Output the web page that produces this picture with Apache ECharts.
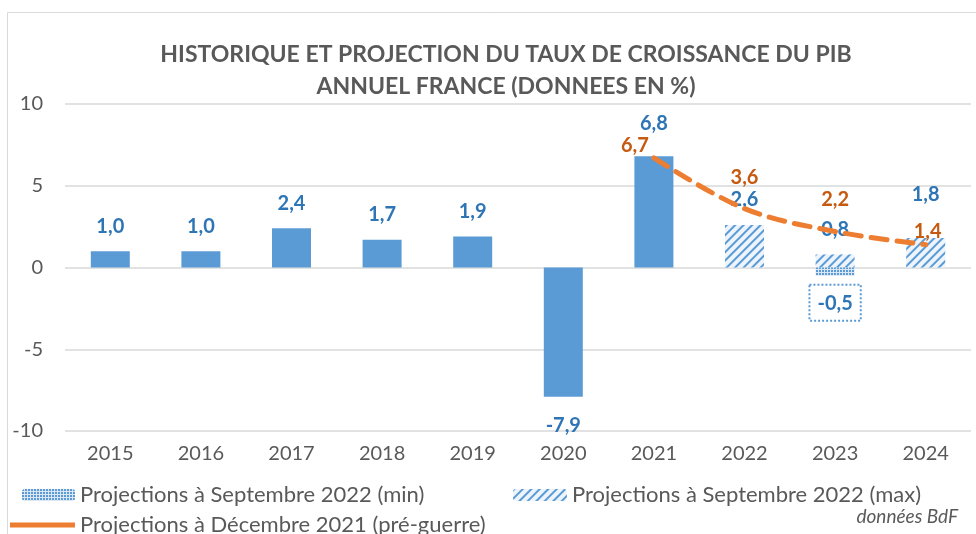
<!DOCTYPE html>
<html>
<head>
<meta charset="utf-8">
<script src="https://cdn.jsdelivr.net/npm/echarts@6/dist/echarts.min.js"></script>
<style>html,body{margin:0;padding:0;background:#fff;}#c{width:976px;height:534px;}</style>
</head>
<body>
<div id="c"></div>
<script>
const years = ['2015','2016','2017','2018','2019','2020','2021','2022','2023','2024'];
const historique = [1.0, 1.0, 2.4, 1.7, 1.9, -7.9, 6.8, null, null, null];
const sep2022Max = [null, null, null, null, null, null, null, 2.6, 0.8, 1.8];
const sep2022Min = [null, null, null, null, null, null, null, null, -0.5, null];
const dec2021 = [null, null, null, null, null, null, 6.7, 3.6, 2.2, 1.4];
const yTicks = [-10, -5, 0, 5, 10];

const NAME_MIN = 'Projections à Septembre 2022 (min)';
const NAME_MAX = 'Projections à Septembre 2022 (max)';
const NAME_DEC = 'Projections à Décembre 2021 (pré-guerre)';
const FONT = 'Lato';
const GRAY = '#595959';
const BLUE = '#5b9bd5';
const BLUE_TXT = '#2e75b6';
const ORANGE = '#ed7d31';
const ORANGE_TXT = '#c55a11';

const fmt = v => v.toFixed(1).replace('.', ',');
const lblBase = {show: true, fontFamily: FONT, fontWeight: 'bold', fontSize: 20, color: BLUE_TXT,
  formatter: p => fmt(p.value)};

// label placement tweaks (by category index)
const histDist = {5: ['bottom', 19], 6: ['top', 23]};
const maxDist = {9: ['top', 34]};
const decLbl = {6: {distance: 2, offset: [-19, 0]}, 7: {distance: 21}, 8: {distance: 22}, 9: {distance: 3, offset: [2, 0]}};

const histData = historique.map((v, i) => {
  if (v === null) return null;
  const d = histDist[i] || ['top', 15];
  return {value: v, label: {position: d[0], distance: d[1]}};
});
const maxData = sep2022Max.map((v, i) => {
  if (v === null) return null;
  const d = maxDist[i] || ['top', 15];
  return {value: v, label: {position: d[0], distance: d[1]}};
});
const decData = dec2021.map((v, i) => {
  if (v === null) return null;
  return {value: v, label: Object.assign({position: 'top'}, decLbl[i] || {})};
});

const legendText = {fontFamily: FONT, fontSize: 22, color: GRAY};

const chart = echarts.init(document.getElementById('c'), null, {renderer: 'canvas'});
chart.setOption({
  animation: false,
  backgroundColor: '#fff',
  title: {
    text: 'HISTORIQUE ET PROJECTION DU TAUX DE CROISSANCE DU PIB\nANNUEL FRANCE (DONNEES EN %)',
    left: 501, top: 34, textAlign: 'center',
    textStyle: {fontFamily: FONT, fontWeight: 'bold', fontSize: 23, color: GRAY, lineHeight: 32, align: 'center'}
  },
  grid: {left: 65, right: 5, top: 104, bottom: 103, containLabel: false},
  xAxis: {
    type: 'category', data: years,
    axisLine: {show: false, onZero: false}, axisTick: {show: false},
    axisLabel: {fontFamily: FONT, fontSize: 20, color: GRAY, margin: 13}
  },
  yAxis: {
    type: 'value', min: yTicks[0], max: yTicks[yTicks.length - 1], interval: 5,
    axisLine: {show: false}, axisTick: {show: false},
    axisLabel: {fontFamily: FONT, fontSize: 20, color: GRAY, margin: 22},
    splitLine: {lineStyle: {color: '#d9d9d9', width: 1.5}}
  },
  legend: [
    {data: [NAME_MIN], left: 22, top: 484, itemWidth: 53, itemHeight: 12, itemGap: 5, padding: 0,
      textStyle: legendText},
    {data: [NAME_MAX], left: 513, top: 484, itemWidth: 54, itemHeight: 12, padding: 0,
      textStyle: legendText},
    {data: [NAME_DEC], left: 10, top: 514, itemWidth: 65, itemHeight: 5, padding: 0, icon: 'rect',
      itemStyle: {color: ORANGE},
      textStyle: legendText}
  ],
  graphic: [
    {type: 'rect', shape: {x: 7.5, y: 12.5, width: 1000, height: 600}, style: {fill: 'none', stroke: '#d9d9d9', lineWidth: 1}, silent: true, z: -10},
    {type: 'text', right: 18, top: 507, style: {text: 'données BdF', fontFamily: FONT, fontStyle: 'italic', fontSize: 19, fill: GRAY}}
  ],
  series: [
    {name: 'Historique', type: 'bar', data: histData, barWidth: 39, barGap: '-100%',
      itemStyle: {color: BLUE}, label: lblBase, z: 2},
    {name: NAME_MAX, type: 'bar', data: maxData, barWidth: 39, barGap: '-100%',
      itemStyle: {color: '#eef4fb', decal: {symbol: 'rect', symbolSize: 1, dashArrayX: [1, 0], dashArrayY: [1.5, 3.5], rotation: -Math.PI / 4, color: BLUE}},
      label: lblBase, z: 2},
    {name: NAME_MIN, type: 'bar', data: sep2022Min, barWidth: 39, barGap: '-100%',
      itemStyle: {color: '#dbe7f5', decal: {symbol: 'rect', symbolSize: 1, dashArrayX: [2, 1], dashArrayY: [2, 1], color: BLUE}},
      label: Object.assign({}, lblBase, {position: 'bottom', distance: 9, padding: [9, 8, 7, 8],
        borderColor: BLUE, borderWidth: 2, borderType: 'dotted'}), z: 2},
    {name: NAME_DEC, type: 'line', data: decData, smooth: 0.35, symbol: 'circle', symbolSize: 0,
      connectNulls: false, color: ORANGE,
      lineStyle: {color: ORANGE, width: 5, type: [16, 10], cap: 'round'},
      itemStyle: {color: ORANGE},
      label: Object.assign({}, lblBase, {color: ORANGE_TXT}), z: 5}
  ]
});
</script>
</body>
</html>
